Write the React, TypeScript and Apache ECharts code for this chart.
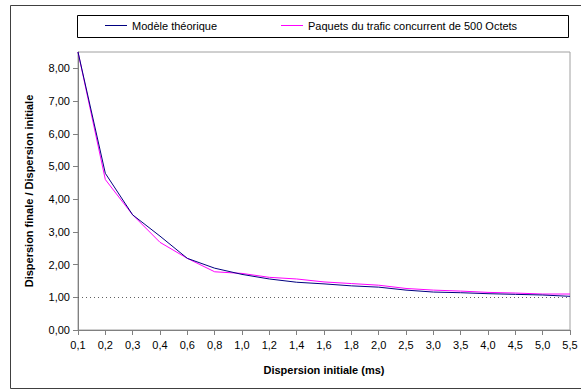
import React, { useEffect, useRef } from "react";
import * as echarts from "echarts";

const categories = ["0,1", "0,2", "0,3", "0,4", "0,6", "0,8", "1,0", "1,2", "1,4", "1,6", "1,8", "2,0", "2,5", "3,0", "3,5", "4,0", "4,5", "5,0", "5,5"];
const theorique = [8.5, 4.79, 3.52, 2.87, 2.19, 1.89, 1.7, 1.56, 1.46, 1.41, 1.35, 1.31, 1.22, 1.16, 1.14, 1.11, 1.09, 1.07, 1.03];
const paquets = [8.5, 4.6, 3.52, 2.68, 2.19, 1.78, 1.73, 1.61, 1.56, 1.47, 1.42, 1.37, 1.27, 1.22, 1.19, 1.15, 1.13, 1.1, 1.1];
const yTicks = [0, 1, 2, 3, 4, 5, 6, 7, 8];
const seriesNames = ["Modèle théorique", "Paquets du trafic concurrent de 500 Octets"];

const FONT = "Liberation Sans, Arial, sans-serif";

export default function App() {
  const ref = useRef<HTMLDivElement>(null);
  useEffect(() => {
    const chart = echarts.init(ref.current!, null, { renderer: "svg" });
    const legendCommon = {
      icon: "rect",
      itemWidth: 22,
      itemHeight: 1,
      itemGap: 4,
      padding: 0,
      textStyle: { fontFamily: FONT, fontSize: 11, color: "#000", padding: [0, 0, 0, 0] },
      selectedMode: false,
    };
    chart.setOption({
      animation: false,
      backgroundColor: "#fff",
      textStyle: { fontFamily: FONT },
      legend: [
        { ...legendCommon, data: [seriesNames[0]], left: 105, top: 20 },
        { ...legendCommon, data: [seriesNames[1]], left: 281, top: 20 },
      ],
      grid: {
        left: 78,
        right: 11,
        top: 52,
        bottom: 62,
        show: true,
        borderColor: "#a0a0a0",
        borderWidth: 1,
        backgroundColor: "#fff",
      },
      xAxis: {
        type: "category",
        data: categories,
        boundaryGap: false,
        name: "Dispersion initiale (ms)",
        nameLocation: "middle",
        nameGap: 34,
        nameTextStyle: { fontFamily: FONT, fontSize: 11, fontWeight: "bold", color: "#000" },
        axisLine: { lineStyle: { color: "#808080", width: 1 } },
        axisTick: { show: true, length: 5, interval: 0, lineStyle: { color: "#808080" } },
        axisLabel: { interval: 0, fontFamily: FONT, fontSize: 11, color: "#000", margin: 9 },
        splitLine: { show: false },
      },
      yAxis: {
        type: "value",
        min: 0,
        max: 8.5,
        interval: 1,
        name: "Dispersion finale / Dispersion initiale",
        nameLocation: "middle",
        nameRotate: 90,
        nameGap: 44,
        nameTextStyle: { fontFamily: FONT, fontSize: 11, fontWeight: "bold", color: "#000" },
        axisLine: { show: true, lineStyle: { color: "#808080", width: 1 } },
        axisTick: { show: true, length: 5, customValues: yTicks, lineStyle: { color: "#808080" } },
        axisLabel: {
          customValues: yTicks,
          fontFamily: FONT,
          fontSize: 11,
          color: "#000",
          margin: 8,
          formatter: (v: number) => v.toFixed(2).replace(".", ","),
        },
        splitLine: { show: false },
      },
      graphic: [
        {
          type: "rect",
          shape: { x: 10.5, y: 5.5, width: 580, height: 383 },
          style: { fill: "none", stroke: "#404040", lineWidth: 1 },
          silent: true,
          z: -1,
        },
        {
          type: "rect",
          shape: { x: 77.5, y: 15.5, width: 491, height: 22 },
          style: { fill: "none", stroke: "#000", lineWidth: 1 },
          silent: true,
        },
      ],
      series: [
        {
          name: seriesNames[0],
          type: "line",
          data: theorique,
          symbol: "none",
          lineStyle: { color: "#000080", width: 1 },
          itemStyle: { color: "#000080" },
          z: 3,
          markLine: {
            silent: true,
            symbol: "none",
            label: { show: false },
            lineStyle: { color: "#606060", type: [1, 3], width: 1 },
            data: [{ yAxis: 1 }],
          },
        },
        {
          name: seriesNames[1],
          type: "line",
          data: paquets,
          symbol: "none",
          lineStyle: { color: "#ff00ff", width: 1 },
          itemStyle: { color: "#ff00ff" },
          z: 2,
        },
      ],
    });
    return () => chart.dispose();
  }, []);
  return <div ref={ref} style={{ width: 581, height: 392, position: "absolute", left: 0, top: 0 }} />;
}
